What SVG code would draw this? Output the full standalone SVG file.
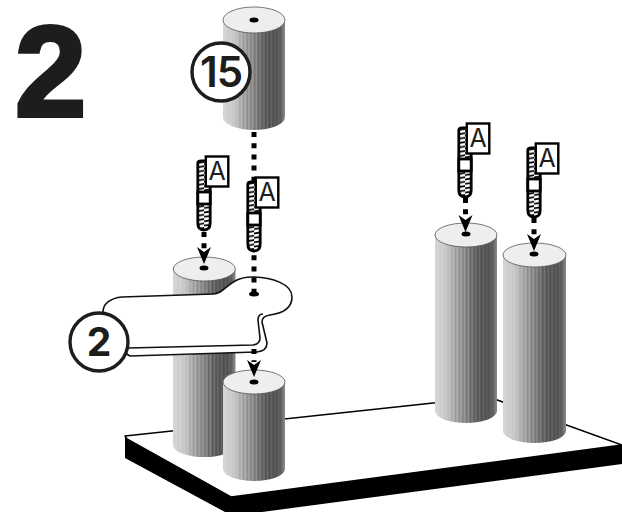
<svg xmlns="http://www.w3.org/2000/svg" width="622" height="512" viewBox="0 0 622 512">
<style>
.num{font-family:Inter,"Liberation Sans",sans-serif;text-anchor:middle;fill:#1d1d1b}
.callout{fill:#fff;stroke:#1d1d1b;stroke-width:3.4}
.top{fill:#eeeeef;stroke:#555;stroke-width:.8}
.hole{fill:#000}
.dash{fill:none;stroke:#000;stroke-width:5;stroke-dasharray:5 6.2}
.flange{fill:#fff;stroke:#111;stroke-width:1.6;stroke-linejoin:round}
</style>
<defs>
<linearGradient id="metal" x1="0" y1="0" x2="1" y2="0">
<stop offset=".00" stop-color="#d6d6d6"/><stop offset=".03" stop-color="#d4d4d4"/><stop offset=".06" stop-color="#d2d2d2"/><stop offset=".09" stop-color="#cccccc"/><stop offset=".12" stop-color="#d2d2d2"/><stop offset=".15" stop-color="#c6c6c6"/><stop offset=".18" stop-color="#cccccc"/><stop offset=".21" stop-color="#bcbcbc"/><stop offset=".24" stop-color="#c4c4c4"/><stop offset=".27" stop-color="#a8a8a8"/><stop offset=".30" stop-color="#b8b8b8"/><stop offset=".33" stop-color="#9a9a9a"/><stop offset=".36" stop-color="#b0b0b0"/><stop offset=".39" stop-color="#8c8c8c"/><stop offset=".42" stop-color="#a6a6a6"/><stop offset=".45" stop-color="#808080"/><stop offset=".48" stop-color="#9c9c9c"/><stop offset=".51" stop-color="#747474"/><stop offset=".54" stop-color="#909090"/><stop offset=".57" stop-color="#646464"/><stop offset=".60" stop-color="#848484"/><stop offset=".63" stop-color="#56565a"/><stop offset=".66" stop-color="#747474"/><stop offset=".69" stop-color="#505054"/><stop offset=".72" stop-color="#6a6a6a"/><stop offset=".75" stop-color="#4c4c50"/><stop offset=".78" stop-color="#666666"/><stop offset=".81" stop-color="#4c4c50"/><stop offset=".84" stop-color="#5e5e5e"/><stop offset=".87" stop-color="#505054"/><stop offset=".90" stop-color="#626262"/><stop offset=".93" stop-color="#5a5a5e"/><stop offset=".96" stop-color="#747474"/><stop offset="1" stop-color="#8a8a8a"/>
</linearGradient>
<pattern id="thread" width="14" height="4.4" patternUnits="userSpaceOnUse">
<rect width="14" height="4.4" fill="#fff"/><path d="M-1 3.2L15 .8" stroke="#000" stroke-width="1.7"/>
</pattern>
<g id="bolt">
<path d="M-6.200 2Q-6.200 0-3 0H6.200V62Q6.200 69 0 69Q-6.200 69-6.200 62Z" fill="url(#thread)" stroke="#000" stroke-width="2.8"/>
<rect x="-6.200" y="31" width="12.400" height="12" fill="#fff" stroke="#000" stroke-width="2.8"/>
<rect x="1.800" y="-4.500" width="22.500" height="30" fill="#fff" stroke="#000" stroke-width="2.400"/>
<text x="13" y="19" font-family="Inter,'Liberation Sans',sans-serif" font-size="25" text-anchor="middle" fill="#1d1d1b">A</text>
</g>
<path id="head" d="M-7 0L0 5L7 0L0 17Z" fill="#000"/>
</defs>

<g id="base">
<path d="M125 437V458L225 512H262L622 464V445L231 497Z" fill="#000"/>
<path d="M125 436L489 397L622 445L231 497L127 439Z" fill="#fff" stroke="#000" stroke-width="1.5" stroke-linejoin="round"/>
</g>

<g id="cylinder-back">
<path d="M173 269V445A31 12 0 0 0 235.500 445V269Z" fill="url(#metal)"/>
<ellipse class="top" cx="204.300" cy="269" rx="31" ry="12"/>
<ellipse class="hole" cx="204" cy="268" rx="4.500" ry="2.500"/>
</g>

<g id="cylinder-right-1">
<path d="M435 235V411A31 12 0 0 0 497 411V235Z" fill="url(#metal)"/>
<ellipse class="top" cx="466" cy="235" rx="31" ry="12"/>
<ellipse class="hole" cx="466" cy="234" rx="4.500" ry="2.500"/>
</g>

<g id="cylinder-right-2">
<path d="M503 255V431A31.500 12 0 0 0 566 431V255Z" fill="url(#metal)"/>
<ellipse class="top" cx="534.500" cy="255" rx="31.500" ry="12"/>
<ellipse class="hole" cx="534" cy="254" rx="4.500" ry="2.500"/>
</g>

<g id="flange">
<path class="flange" d="M130 356L257 352Q267 351 267 343L262 322Q262 316 270 315Q292 312 292 297C292 284 272 277 252 277C228 277 226 294 213 294L122 297C110 298 103 304 103 312V340Z"/>
<path d="M128 348L253 345Q260 344 260 338L258 320Q258 314 263 314" fill="none" stroke="#111" stroke-width="1.6"/>
<ellipse class="hole" cx="254" cy="294" rx="5" ry="2.500"/>
</g>

<g id="cylinder-front">
<path d="M223 382V469A31 12 0 0 0 285 469V382Z" fill="url(#metal)"/>
<ellipse class="top" cx="254" cy="382" rx="31" ry="12"/>
<ellipse class="hole" cx="254" cy="382" rx="4.500" ry="2.500"/>
</g>

<g id="cylinder-top">
<path d="M223 20V117A31 13 0 0 0 285 117V20Z" fill="url(#metal)"/>
<ellipse class="top" cx="254" cy="20" rx="31" ry="13"/>
<ellipse class="hole" cx="254" cy="20" rx="4.500" ry="2.500"/>
</g>

<g id="connectors">
<path class="dash" d="M254 132V292"/>
<path class="dash" d="M254 349V362"/>
<path class="dash" d="M204 232V250"/>
<path class="dash" d="M465.500 198V216"/>
<path class="dash" d="M534 218V236"/>
<use href="#head" x="254" y="360"/>
<use href="#head" x="204" y="247"/>
<use href="#head" x="465.500" y="215"/>
<use href="#head" x="534" y="234"/>
</g>

<use id="bolt-1" href="#bolt" x="204" y="161"/>
<use id="bolt-2" href="#bolt" x="254" y="182"/>
<use id="bolt-3" href="#bolt" x="465" y="128"/>
<use id="bolt-4" href="#bolt" x="534" y="148"/>

<g id="callout-15">
<circle class="callout" cx="221" cy="72" r="29"/>
<text class="num" x="221" y="87" font-size="42" font-weight="600" letter-spacing="-1">15</text>
</g>
<g id="callout-2">
<circle class="callout" cx="99" cy="342" r="29"/>
<text class="num" x="99" y="356" font-size="39" font-weight="700">2</text>
</g>
<g id="step">
<text x="50.500" y="116" font-family="'Liberation Sans',sans-serif" font-size="128" font-weight="700" text-anchor="middle" fill="#1d1d1b" stroke="#1d1d1b" stroke-width="4" stroke-linejoin="miter">2</text>
</g>
</svg>
